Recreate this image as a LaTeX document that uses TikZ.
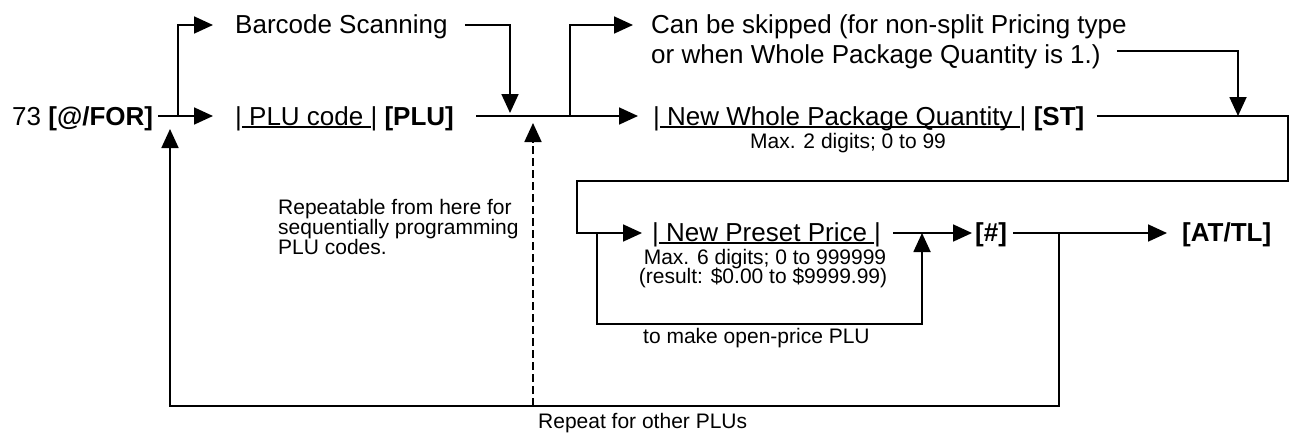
\documentclass[tikz,border=0pt]{standalone}
\usepackage{fontspec}
\setmainfont{Liberation Sans}
\usetikzlibrary{arrows.meta}
\newcommand{\uln}[1]{\setbox0\hbox{#1}\rlap{\rule[-2.8pt]{\wd0}{1.7pt}}\box0}
\begin{document}
\begin{tikzpicture}[x=1pt,y=-1pt,
  lbl/.style={inner sep=0pt, anchor=base west, font=\fontsize{26}{30}\selectfont},
  sml/.style={inner sep=0pt, anchor=base west, font=\fontsize{21}{20}\selectfont},
  ln/.style={line width=1.8pt},
  arr/.style={ln, -{Triangle[length=19pt,width=17pt]}},
  dsh/.style={arr, dash pattern=on 8pt off 4pt}]
\useasboundingbox (0,0) rectangle (1290,434);
% texts
\node[lbl] (n73) at (12,125) {73 \textbf{[@/FOR]}};
\node[lbl] (bc) at (235,33) {Barcode Scanning};
\node[lbl] (plu) at (235,125) {|\uln{\ PLU code\ }| \textbf{[PLU]}};
\node[lbl] (skipa) at (651,33) {Can be skipped (for non-split Pricing type};
\node[lbl] (skipb) at (651,63) {or when Whole Package Quantity is 1.)};
\node[lbl] (wpq) at (653,125) {|\uln{\ New Whole Package Quantity\ }| \textbf{[ST]}};
\node[sml] (max2) at (750,148) {Max. 2 digits; 0 to 99};
\node[lbl] (npp) at (652,241) {|\uln{\ New Preset Price\ }|};
\node[lbl] (hash) at (975,241) {\textbf{[\#]}};
\node[lbl] (attl) at (1182,241) {\textbf{[AT/TL]}};
\node[sml, anchor=base] (max6a) at (765,264) {Max. 6 digits; 0 to 999999};
\node[sml, anchor=base] (max6b) at (763,283) {(result: \$0.00 to \$9999.99)};
\node[sml] (rep1) at (278,214) {Repeatable from here for};
\node[sml] (rep2) at (278,234) {sequentially programming};
\node[sml] (rep3) at (278,254) {PLU codes.};
\node[sml] (open) at (643,343) {to make open-price PLU};
\node[sml] (rfo) at (538,428) {Repeat for other PLUs};
% levels and junctions
\coordinate (yA) at (0,25);
\coordinate (yS) at (0,51);
\coordinate (yB) at (0,116);
\coordinate (yC) at (0,233);
\coordinate (jA) at (178,116);
\coordinate (jB) at (510,116);
\coordinate (jC) at (570,116);
\coordinate (jE) at (1238,116);
\coordinate (cR) at (1288,181);
\coordinate (cL) at (577,181);
\coordinate (jF) at (597,233);
\coordinate (jG) at (922,324);
\coordinate (jH) at (1059,233);
\coordinate (jL) at (170,406);
\coordinate (tL) at (170,129);
\coordinate (jD) at (533,406);
\coordinate (tD) at (533,123);
% connectors
\draw[arr] ([xshift=5pt]n73.east |- yB) -- ([xshift=-22pt]plu.west |- yB);
\draw[arr] (jA) |- ([xshift=-22pt]bc.west |- yA);
\draw[arr] ([xshift=17pt]bc.east |- yA) -| ([yshift=3pt]jB);
\draw[arr] ([xshift=22pt]plu.east |- yB) -- ([xshift=-15pt]wpq.west |- yB);
\draw[arr] (jC) |- ([xshift=-18pt]skipa.west |- yA);
\draw[arr] ([xshift=16pt]skipb.east |- yS) -| (jE);
\draw[arr] ([xshift=12pt]wpq.east |- yB) -| (cR) -- (cL) |- ([xshift=-10pt]npp.west |- yC);
\draw[arr] (jF) |- (jG) -- (jG |- yC);
\draw[arr] ([xshift=12pt]npp.east |- yC) -- ([xshift=-3pt]hash.west |- yC);
\draw[arr] ([xshift=6pt]hash.east |- yC) -- ([xshift=-15pt]attl.west |- yC);
\draw[arr] (jH) |- (jL) -- (tL);
\draw[dsh] (jD) -- (tD);
\end{tikzpicture}
\end{document}
